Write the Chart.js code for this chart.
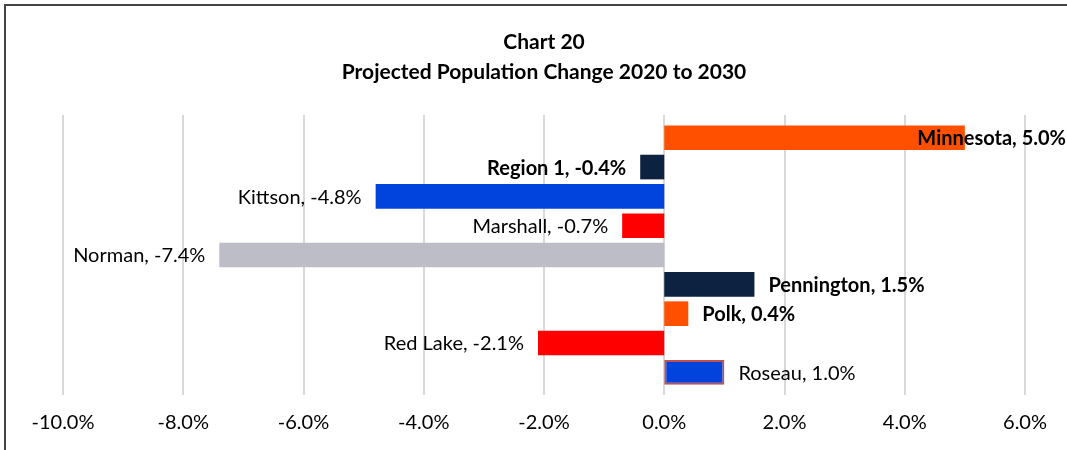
<!DOCTYPE html>
<html>
<head>
<meta charset="utf-8">
<script src="https://cdn.jsdelivr.net/npm/chart.js@4"></script>
<style>
html,body{margin:0;padding:0;background:#fff;overflow:hidden;}
#wrap{position:relative;width:1067px;height:450px;}
#frame{position:absolute;left:4px;top:4px;width:1100px;height:500px;border-left:2px solid #444;border-top:2px solid #444;pointer-events:none;}
canvas{display:block;}
</style>
</head>
<body>
<div id="wrap">
<canvas id="chart" width="1067" height="450"></canvas>
<div id="frame"></div>
</div>
<script>
let regions = ['Minnesota','Region 1','Kittson','Marshall','Norman','Pennington','Polk','Red Lake','Roseau'];
let changes = [5.0,-0.4,-4.8,-0.7,-7.4,1.5,0.4,-2.1,1.0];
let boldLabels = ['Minnesota','Region 1','Pennington','Polk'];
let barColors = ['#ff5000','#0d2240','#0044dd','#ff0000','#bdbdc7','#0d2240','#ff5000','#ff0000','#0044dd'];
let tickValues = [-10,-8,-6,-4,-2,0,2,4,6];

let FONT = 'Lato, "Open Sans", sans-serif';

// vertical gridlines a bit taller than the bar band, like the excel original
let gridPlugin = {
    id:'gridLines',
    beforeDatasetsDraw(chart){
        let ctx = chart.ctx, xs = chart.scales.x;
        ctx.save();
        ctx.strokeStyle = '#d9d9d9';
        ctx.lineWidth = 2;
        tickValues.forEach(v=>{
            let x = Math.round(xs.getPixelForValue(v));
            ctx.beginPath();
            ctx.moveTo(x, 115);
            ctx.lineTo(x, 395);
            ctx.stroke();
        });
        ctx.restore();
    }
};

let labelPlugin = {
    id:'barLabels',
    afterDatasetsDraw(chart){
        let ctx = chart.ctx;
        let meta = chart.getDatasetMeta(0);
        ctx.save();
        ctx.textBaseline = 'middle';
        ctx.fillStyle = '#000';
        meta.data.forEach((bar,i)=>{
            let name = regions[i], v = changes[i];
            let txt = name + ', ' + v.toFixed(1) + '%';
            ctx.font = (boldLabels.includes(name)?'bold ':'') + '20px ' + FONT;
            let w = ctx.measureText(txt).width;
            let x;
            if(v >= 0){
                x = bar.x + 14;
                if(x + w > chart.width - 1) x = chart.width - 1 - w;
            } else {
                x = bar.x - 14 - w;
            }
            ctx.textAlign = 'left';
            ctx.fillText(txt, x, bar.y + 1);
        });
        ctx.restore();
    }
};

new Chart(document.getElementById('chart'),{
    type:'bar',
    data:{
        labels:regions,
        datasets:[{
            data:changes,
            backgroundColor:barColors,
            borderColor:regions.map(r=>r==='Roseau'?'#c0504d':'rgba(0,0,0,0)'),
            borderWidth:regions.map(r=>r==='Roseau'?2:0),
            borderSkipped:false,
            barPercentage:0.84,
            categoryPercentage:1
        }]
    },
    options:{
        indexAxis:'y',
        responsive:false,
        animation:false,
        layout:{padding:{left:63,right:42,top:27,bottom:15}},
        plugins:{
            legend:{display:false},
            tooltip:{enabled:false},
            title:{
                display:true,
                text:['Chart 20','Projected Population Change 2020 to 2030'],
                color:'#000',
                font:{family:FONT,size:21,weight:'bold',lineHeight:1.43},
                padding:{top:0,bottom:36}
            }
        },
        scales:{
            x:{
                type:'linear',
                min:-10,max:6,
                afterBuildTicks(axis){ axis.ticks = tickValues.map(v=>({value:v})); },
                afterFit(axis){ axis.height = 48; axis.paddingLeft = 0; axis.paddingRight = 0; },
                grid:{display:false,drawTicks:false,tickLength:0},
                border:{display:false},
                ticks:{
                    padding:24,
                    color:'#000',
                    font:{family:FONT,size:20},
                    maxRotation:0,
                    callback:v=>v.toFixed(1)+'%'
                }
            },
            y:{display:false}
        }
    },
    plugins:[gridPlugin,labelPlugin]
});
</script>
</body>
</html>
